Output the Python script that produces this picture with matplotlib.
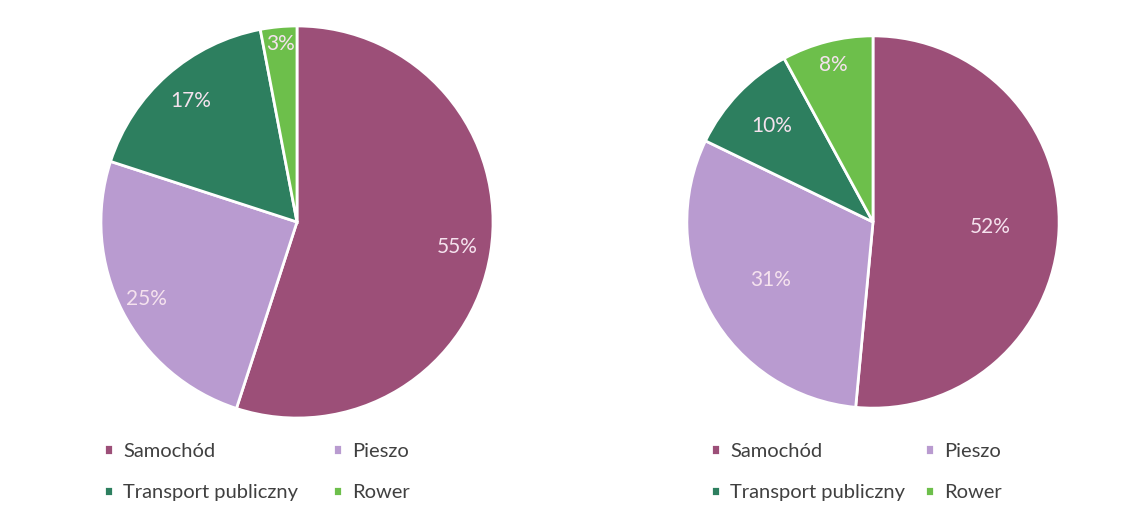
import numpy as np
import matplotlib.pyplot as plt

categories = ["Samochód", "Pieszo", "Transport publiczny", "Rower"]
share_left = [55, 25, 17, 3]
share_right = [52, 31, 10, 8]

colors = ["#9c4f78", "#b99bd0", "#2d7f5f", "#6dbf4b"]
label_color = "#f5e2ee"

plt.rcParams["font.family"] = ["Lato", "DejaVu Sans"]

fig = plt.figure(figsize=(11.22, 5.18), dpi=100, facecolor="white")


def draw_pie(rect, values, label_r, legend_xy, colspacing):
    ax = fig.add_axes(rect)
    wedges, _, autotexts = ax.pie(
        values, colors=colors, startangle=90, counterclock=False,
        autopct="%d%%", pctdistance=0.8, radius=1.0,
        wedgeprops=dict(edgecolor="white", linewidth=2),
        textprops=dict(color=label_color, fontsize=15),
    )
    # move labels roughly where Excel's best-fit put them
    for w, t, r in zip(wedges, autotexts, label_r):
        ang = np.deg2rad((w.theta1 + w.theta2) / 2)
        t.set_position((r * np.cos(ang), r * np.sin(ang)))
    for t, v in zip(autotexts, values):
        t.set_text(f"{v}%")
    ax.set_xlim(-1.01, 1.01)
    ax.set_ylim(-1.01, 1.01)
    ax.set_aspect("auto")
    # row-wise legend order: matplotlib fills columns first
    order = [0, 2, 1, 3]
    fig.legend([wedges[i] for i in order], [categories[i] for i in order],
               loc="upper left", bbox_to_anchor=legend_xy,
               ncol=2, frameon=False, fontsize=14.5, handlelength=0.45,
               handleheight=0.45, handletextpad=0.5, columnspacing=colspacing,
               labelspacing=1.2, labelcolor="#404040", borderaxespad=0)
    return ax


draw_pie([99 / 1122, 98 / 518, 396 / 1122, 396 / 518], share_left,
         [0.83, 0.86, 0.82, 0.91], (96 / 1122, 1 - 435 / 518), 1.75)
draw_pie([685 / 1122, 108 / 518, 376 / 1122, 376 / 518], share_right,
         [0.63, 0.63, 0.75, 0.87], (703 / 1122, 1 - 435 / 518), 1.0)

fig.savefig("out.png", dpi=100, facecolor="white")
